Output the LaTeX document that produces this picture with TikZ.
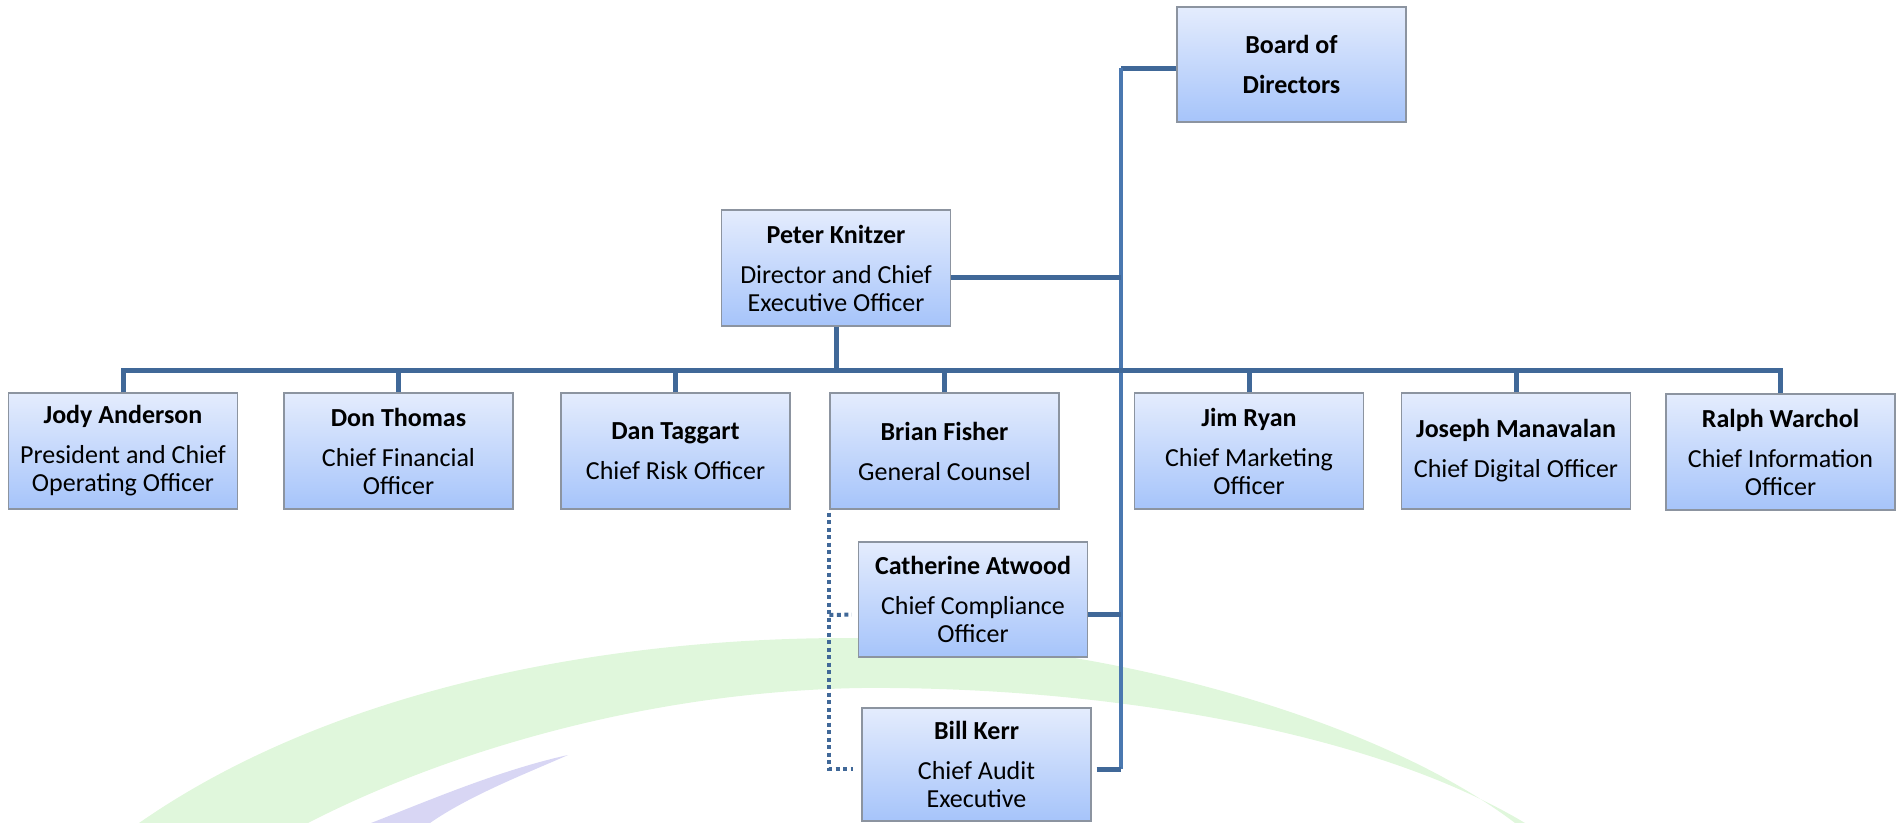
\documentclass[tikz,border=0pt]{standalone}
\usepackage{fontspec}
\setmainfont{Carlito}
\usetikzlibrary{calc}

\definecolor{linkblue}{RGB}{64,104,152}
\definecolor{trunkblue}{RGB}{74,120,176}
\definecolor{boxtop}{RGB}{228,236,253}
\definecolor{boxbot}{RGB}{166,196,250}
\definecolor{boxedge}{RGB}{140,148,160}
\definecolor{swooshgreen}{RGB}{224,247,220}
\definecolor{swooshviolet}{RGB}{216,214,244}

\newcommand\orgfont{\fontsize{26}{28}\selectfont}
\newcommand\nm[1]{\textbf{#1}\\[12pt]}

\tikzset{
  orgbox/.style={draw=boxedge, line width=1.3pt, top color=boxtop, bottom color=boxbot,
    align=center, inner sep=0pt, font=\orgfont, text=black,
    minimum width=229pt, minimum height=115pt},
  link/.style={draw=linkblue, line width=5pt},
  trunk/.style={draw=trunkblue, line width=4.5pt},
  dotlink/.style={draw=linkblue, line width=4pt, dash pattern=on 4pt off 3.5pt},
}

\begin{document}
\begin{tikzpicture}[x=1pt, y=-1pt]
\useasboundingbox (0,0) rectangle (1902,822);

% soft background swooshes
\fill[swooshgreen] (139,823) .. controls (330,690) and (600,638) .. (848,638)
  .. controls (1100,638) and (1380,720) .. (1515,823)
  -- (1525,823) .. controls (1370,730) and (1100,686) .. (860,688)
  .. controls (640,692) and (440,755) .. (308,823) -- cycle;
\fill[swooshviolet] (371,823) .. controls (430,800) and (500,770) .. (568,755)
  .. controls (530,772) and (470,795) .. (430,823) -- cycle;

% boxes
\node[orgbox] (board) at (1291.5,64.5) {\textbf{Board of}\\[12pt]\textbf{Directors}};
\node[orgbox, minimum height=116pt] (peter) at (836,268) {\nm{Peter Knitzer}Director and Chief\\Executive Officer};

\node[orgbox, minimum height=116pt] (jody)   at (123,451)    {\nm{Jody Anderson}President and Chief\\Operating Officer};
\node[orgbox, minimum height=116pt] (don)    at (398.5,451)  {\nm{Don Thomas}Chief Financial\\Officer};
\node[orgbox, minimum height=116pt] (dan)    at (675.5,451)  {\nm{Dan Taggart}Chief Risk Officer};
\node[orgbox, minimum height=116pt] (brian)  at (944.5,451)  {\nm{Brian Fisher}General Counsel};
\node[orgbox, minimum height=116pt] (jim)    at (1249,451)   {\nm{Jim Ryan}Chief Marketing\\Officer};
\node[orgbox, minimum height=116pt] (joseph) at (1516,451)   {\nm{Joseph Manavalan}Chief Digital Officer};
\node[orgbox, minimum height=116pt] (ralph)  at (1780.5,452) {\nm{Ralph Warchol}Chief Information\\Officer};

\node[orgbox] (cath) at (973,599.5) {\nm{Catherine Atwood}Chief Compliance\\Officer};
\node[orgbox, minimum height=113pt] (bill) at (976.5,764.5) {\nm{Bill Kerr}Chief Audit\\Executive};

% bus and trunk points
\coordinate (busL) at (123,370);
\coordinate (busR) at (1780.5,370);
\coordinate (trunkTop) at (1121,68);
\coordinate (trunkBot) at (1121,769);

% board line and trunk
\draw[link] (board.west |- trunkTop) -- (trunkTop);
\draw[trunk] (trunkTop) -- (trunkBot);
\draw[link] (peter.east |- 0,277) -- (1121,277);
\draw[link] ([yshift=-15pt]cath.east) -- ([yshift=-15pt]cath.east -| trunkBot);
\draw[link] ([xshift=5pt,yshift=-4.5pt]bill.east) -- (trunkBot);

% reporting bus under the chief executive
\draw[link] (peter.south) -- (peter.south |- busL);
\draw[link, line cap=rect] (busL) -- (busR);
\foreach \n in {jody,don,dan,brian,jim,joseph,ralph}
  \draw[link] (\n.north) -- (\n.north |- busL);

% dotted reporting lines from general counsel
\draw[dotlink] ([yshift=-3pt]brian.south west) -- ([yshift=-4.5pt]brian.south west |- bill.west) -- ([xshift=-8pt,yshift=-4.5pt]bill.west);
\draw[dotlink] (brian.south west |- 0,615) -- ([xshift=-6pt,yshift=-15pt]cath.west);
\end{tikzpicture}
\end{document}
